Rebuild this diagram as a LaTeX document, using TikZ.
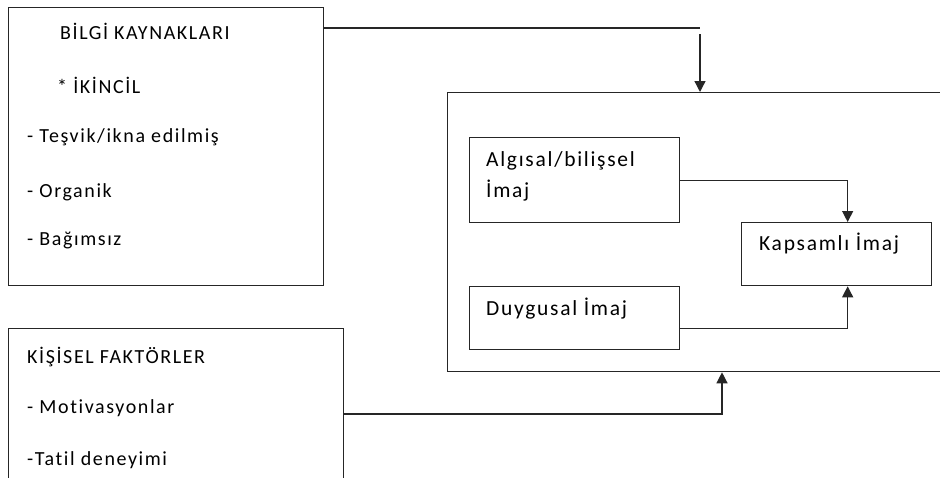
\documentclass[tikz,border=0pt]{standalone}
\usepackage{fontspec}
\setmainfont{Carlito}
\newfontfamily\boxfont[LetterSpace=8, Ligatures={NoCommon, NoDiscretionary, NoContextual}]{Carlito}
\usetikzlibrary{arrows.meta}

\begin{document}
\begin{tikzpicture}[x=1pt,y=-1pt,
  frame/.style={draw=black!85, line width=1.3pt, rectangle, inner sep=0pt, anchor=north west},
  wire/.style={draw=black!85, line width=1.3pt},
  arr/.style={wire, -{Triangle[length=11pt,width=11pt]}},
  txt/.style={anchor=base west, inner sep=0pt, text=black,
    font=\boxfont\fontsize{20}{24}\selectfont},
  txtin/.style={txt, font=\boxfont\fontsize{21.5}{26}\selectfont}
]
\useasboundingbox (0,0) rectangle (940,477);

% outer frames
\node[frame, minimum width=315pt, minimum height=278pt] (src) at (8,7) {};
\node[frame, minimum width=335pt, minimum height=190pt] (pers) at (8,328) {};
\node[frame, minimum width=530pt, minimum height=279pt] (img) at (447,92) {};

% inner frames
\node[frame, minimum width=210pt, minimum height=85pt] (alg) at (469,137) {};
\node[frame, minimum width=210pt, minimum height=63pt] (duy) at (469,286) {};
\node[frame, minimum width=190pt, minimum height=63pt] (kap) at (741,222) {};

% texts of the information sources
\node[txt] (s1) at (60,39) {BİLGİ KAYNAKLARI};
\node[txt] (s2) at (57,93) {* İKİNCİL};
\node[txt] (s3) at (27,142) {- Teşvik/ikna edilmiş};
\node[txt] (s4) at (27,197) {- Organik};
\node[txt] (s5) at (27,245) {- Bağımsız};

% texts of the personal factors
\node[txt] (p1) at (27,363) {KİŞİSEL FAKTÖRLER};
\node[txt] (p2) at (27,413) {- Motivasyonlar};
\node[txt] (p3) at (27,465) {-Tatil deneyimi};

% image texts
\node[txtin] (a1) at (486,166) {Algısal/bilişsel};
\node[txtin] (a2) at (486,197) {İmaj};
\node[txtin] (d1) at (486,315) {Duygusal İmaj};
\node[txtin] (k1) at (759,250) {Kapsamlı İmaj};

% connectors
\coordinate (tc) at (700,28);
\coordinate (ts) at (700,34);
\coordinate (bc) at (722,414);
\draw[wire] (src.east |- tc) -- (tc);
\draw[arr] (ts) -- (ts |- img.north);
\draw[arr] (pers.east |- bc) -- (bc) -- (bc |- img.south);
\draw[arr] (alg.east) -| ([xshift=11pt]kap.north);
\draw[arr] ([yshift=-10.5pt]duy.east) -| ([xshift=11pt]kap.south);
\end{tikzpicture}
\end{document}
